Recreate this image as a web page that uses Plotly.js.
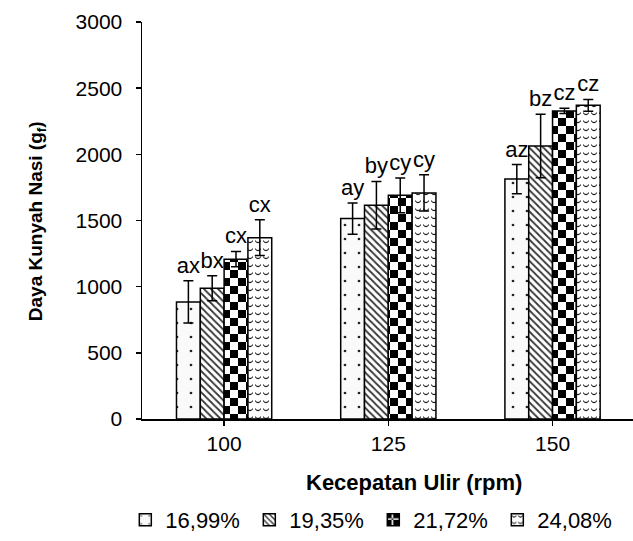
<!DOCTYPE html>
<html>
<head>
<meta charset="utf-8">
<script src="https://cdn.plot.ly/plotly-3.0.1.min.js"></script>
<style>html,body{margin:0;padding:0;background:#fff;}#chart{width:633px;height:541px;}</style>
</head>
<body>
<div id="chart"></div>
<script>
// ---- data ----
const categories = ['100', '125', '150'];
const seriesNames = ['16,99%', '19,35%', '21,72%', '24,08%'];
const v1699 = [885, 1515, 1813];
const v1935 = [988, 1615, 2063];
const v2172 = [1208, 1690, 2328];
const v2408 = [1370, 1708, 2370];
const e1699 = [160, 118, 110];
const e1935 = [95, 180, 240];
const e2172 = [58, 132, 20];
const e2408 = [135, 137, 45];
const l1699 = ['ax', 'ay', 'az'];
const l1935 = ['bx', 'by', 'bz'];
const l2172 = ['cx', 'cy', 'cz'];
const l2408 = ['cx', 'cy', 'cz'];
const yTickVals = [0, 500, 1000, 1500, 2000, 2500, 3000];
const xTitle = 'Kecepatan Ulir (rpm)';
const yTitle = 'Daya Kunyah Nasi (g<sub>f</sub>)';

const FONT = 'Liberation Sans, Arial, sans-serif';
const vals = [v1699, v1935, v2172, v2408];
const errs = [e1699, e1935, e2172, e2408];
const labs = [l1699, l1935, l2172, l2408];
const patterns = [
  {shape: '.', size: 14, solidity: 0.03, fgcolor: '#222', bgcolor: '#fafafa', fillmode: 'replace'},
  {shape: '\\', size: 5, solidity: 0.35, fgcolor: '#333', bgcolor: '#fff', fillmode: 'replace'},
  {path: 'M0,0H8V8H0Z M8,8H16V16H8Z', size: 16, fgcolor: '#000', bgcolor: '#fff', fillmode: 'replace'},
  {path: 'M1,2 Q4,6 7,2 L7,3.3 Q4,7.3 1,3.3 Z', size: 8, fgcolor: '#222', bgcolor: '#fff', fillmode: 'replace'}
];

const traces = [];
for (let i = 0; i < 4; i++) {
  traces.push({
    type: 'bar', name: seriesNames[i], x: categories, y: vals[i],
    offsetgroup: String(i),
    marker: {color: '#fff', line: {color: '#000', width: 1.5}, pattern: patterns[i]},
    error_y: {type: 'data', array: errs[i], visible: true, color: '#000', thickness: 1.5, width: 5},
    hoverinfo: 'skip'
  });
}
for (let i = 0; i < 4; i++) {
  traces.push({
    type: 'bar', x: categories, y: vals[i].map((v, k) => v + errs[i][k]),
    offsetgroup: String(i), showlegend: false,
    marker: {color: 'rgba(0,0,0,0)', line: {width: 0}},
    text: labs[i], textposition: 'outside', constraintext: 'none', cliponaxis: false,
    textfont: {family: FONT, size: 22, color: '#000'},
    hoverinfo: 'skip'
  });
}

const layout = {
  width: 633, height: 541,
  margin: {l: 142, r: 0, t: 22, b: 119},
  paper_bgcolor: '#fff', plot_bgcolor: '#fff',
  font: {family: FONT, size: 21, color: '#000'},
  barmode: 'group', bargap: 0.42, bargroupgap: 0,
  showlegend: true,
  legend: {orientation: 'h', x: -0.034, xanchor: 'left', y: -0.255, yanchor: 'middle',
           entrywidth: 79, entrywidthmode: 'pixels', itemgap: 0,
           font: {family: FONT, size: 22, color: '#000'}, traceorder: 'normal'},
  xaxis: {type: 'category', range: [-0.5, 2.49], showline: true, linecolor: '#000', linewidth: 1.5,
          ticks: 'outside', ticklen: 5, tickwidth: 1.5, tickcolor: '#000', showgrid: false, zeroline: false,
          tickfont: {family: FONT, size: 21, color: '#000'}, ticklabelstandoff: 0, fixedrange: true},
  yaxis: {range: [0, 3000], tickvals: yTickVals, showline: true, linecolor: '#000', linewidth: 1.5,
          ticks: 'outside', ticklen: 5, tickwidth: 1.5, tickcolor: '#000', showgrid: false, zeroline: false,
          tickfont: {family: FONT, size: 21, color: '#000'}, ticklabelstandoff: 9, fixedrange: true},
  annotations: [
    {text: '<b>' + xTitle + '</b>', xref: 'paper', yref: 'paper', x: 0.553, y: -0.16,
     xanchor: 'center', yanchor: 'middle', showarrow: false, font: {family: FONT, size: 22, color: '#000'}},
    {text: '<b>' + yTitle + '</b>', xref: 'paper', yref: 'paper', x: -0.214, y: 0.498, textangle: -90,
     xanchor: 'center', yanchor: 'middle', showarrow: false, font: {family: FONT, size: 19, color: '#000'}}
  ]
};

Plotly.newPlot('chart', traces, layout, {staticPlot: true, displayModeBar: false});
</script>
</body>
</html>
